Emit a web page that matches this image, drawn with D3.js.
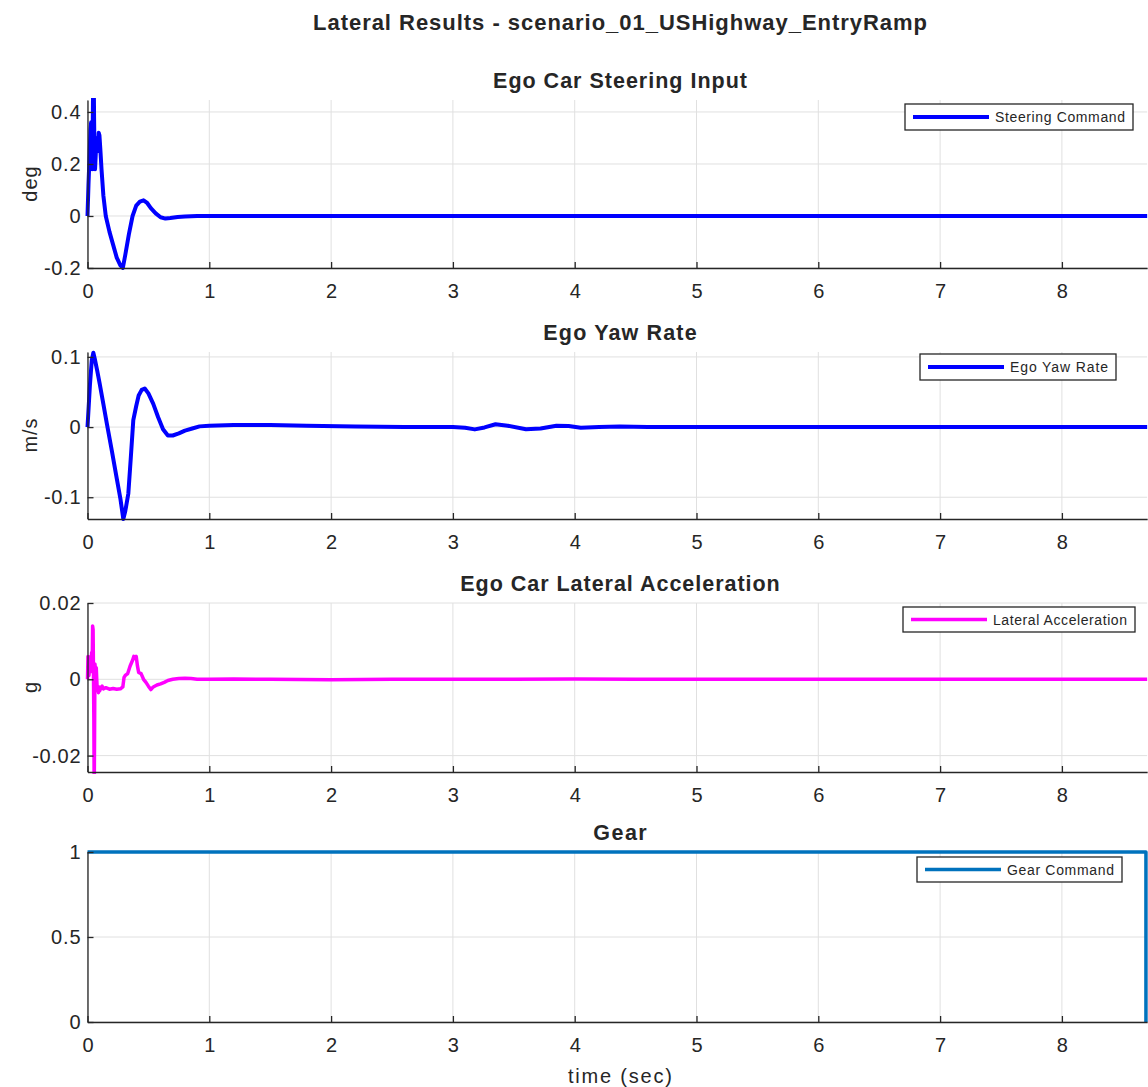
<!DOCTYPE html>
<html><head><meta charset="utf-8">
<script src="https://cdn.jsdelivr.net/npm/d3@7"></script>
<style>
body{margin:0;background:#fff}
svg{display:block}
text{font-family:"Liberation Sans",Arial,Helvetica,sans-serif;fill:#262626}
</style>
</head><body><svg id="c" width="1148" height="1087"></svg>
<script>
// ---------- data ----------
const figureTitle = "Lateral Results - scenario_01_USHighway_EntryRamp";
const xLabel = "time (sec)";
const timeTicks = [0,1,2,3,4,5,6,7,8];
const timeDomain = [0, 8.7];

const steeringT = [0,0.008,0.016,0.024,0.03,0.034,0.038,0.042,0.046,0.05,0.054,0.058,0.062,0.068,0.074,0.08,0.086,0.092,0.098,0.105,0.115,0.13,0.15,0.18,0.21,0.24,0.27,0.29,0.31,0.34,0.37,0.4,0.43,0.46,0.49,0.52,0.56,0.6,0.64,0.68,0.74,0.8,0.9,1.0,1.5,2,3,4,5,6,7,8,8.7];
const steeringV = [0,0.12,0.22,0.33,0.36,0.25,0.18,0.3,0.5,0.6,0.38,0.22,0.18,0.24,0.27,0.3,0.25,0.32,0.31,0.26,0.18,0.08,0.0,-0.06,-0.11,-0.16,-0.19,-0.2,-0.15,-0.07,0.0,0.04,0.055,0.06,0.05,0.03,0.01,-0.005,-0.01,-0.008,-0.004,-0.002,0,0,0,0,0,0,0,0,0,0,0];
const steeringTicks = [-0.2,0,0.2,0.4];
const steeringDomain = [-0.2, 0.446];

const yawT = [0,0.02,0.035,0.048,0.06,0.08,0.1,0.13,0.16,0.2,0.24,0.27,0.294,0.31,0.335,0.355,0.376,0.4,0.42,0.445,0.47,0.5,0.54,0.58,0.62,0.66,0.7,0.75,0.8,0.86,0.92,1.0,1.2,1.5,1.8,2.2,2.6,3.0,3.1,3.18,3.26,3.35,3.45,3.6,3.72,3.85,3.95,4.05,4.2,4.37,4.6,5,6,7,8,8.7];
const yawV = [0,0.06,0.095,0.106,0.097,0.08,0.062,0.033,0.004,-0.034,-0.073,-0.102,-0.131,-0.12,-0.095,-0.045,0.01,0.03,0.045,0.053,0.055,0.048,0.033,0.014,-0.003,-0.012,-0.012,-0.009,-0.005,-0.002,0.001,0.002,0.003,0.003,0.002,0.001,0.0,0.0,-0.001,-0.0033,-0.0005,0.004,0.002,-0.003,-0.002,0.002,0.0015,-0.001,0,0.001,0,0,0,0,0,0];
const yawTicks = [-0.1,0,0.1];
const yawDomain = [-0.131, 0.107];

const latT = [0,0.004,0.008,0.012,0.016,0.02,0.025,0.03,0.034,0.038,0.042,0.046,0.049,0.052,0.055,0.058,0.061,0.064,0.068,0.072,0.076,0.08,0.085,0.09,0.095,0.1,0.11,0.12,0.13,0.15,0.18,0.21,0.24,0.27,0.29,0.3,0.31,0.33,0.35,0.37,0.38,0.39,0.4,0.41,0.42,0.44,0.46,0.48,0.5,0.52,0.54,0.57,0.6,0.63,0.66,0.7,0.75,0.8,0.85,0.9,1.0,1.2,1.5,2,2.5,3,3.5,4,4.5,5,5.5,6,6.5,7,7.5,8,8.7];
const latV = [0,0.006,0.004,0.001,0.003,0.002,0.006,0.004,0.007,0.002,0.014,0.013,0.002,-0.01,-0.03,-0.015,0.004,0.003,-0.002,0.003,0.0,-0.003,-0.002,-0.0035,-0.002,-0.003,-0.0022,-0.0018,-0.0025,-0.0022,-0.0026,-0.0024,-0.0026,-0.0025,-0.002,0.0005,0.001,0.0015,0.0035,0.005,0.006,0.0055,0.006,0.0035,0.0018,0.0015,0.0,-0.0008,-0.0018,-0.0027,-0.002,-0.0015,-0.0012,-0.0008,-0.0003,0.0,0.0002,0.0003,0.0002,0.0,0.0,0.0001,0,-0.0001,0,0,0,0.0001,0,0,0,0,0,0,0,0,0];
const latTicks = [-0.02,0,0.02];
const latDomain = [-0.0243, 0.02];

const gearT = [0, 8.69, 8.69];
const gearV = [1, 1, 0];
const gearTicks = [0,0.5,1];
const gearDomain = [0, 1];

const panelTitles = ["Ego Car Steering Input","Ego Yaw Rate","Ego Car Lateral Acceleration","Gear"];
const yLabels = ["deg","m/s","g",""];
const legendLabels = ["Steering Command","Ego Yaw Rate","Lateral Acceleration","Gear Command"];

// ---------- layout ----------
const svg = d3.select("#c");
const left = 87.5, right = 87.5 + 8.7*121.8;
const x = d3.scaleLinear().domain(timeDomain).range([left, right]);
const cx = 620;

function fitText(sel, factor){
  const w = sel.node().getComputedTextLength();
  sel.attr("textLength", w*factor).attr("lengthAdjust","spacing");
}

const mt = svg.append("text").attr("x", cx).attr("y", 30).attr("text-anchor","middle")
  .attr("font-size", 22).attr("font-weight","bold").text(figureTitle);
fitText(mt, 614/(mt.node().getComputedTextLength()));

const panels = [
  {t:steeringT, v:steeringV, ticks:steeringTicks, dom:steeringDomain, top:100, bot:268, color:"#0000ff", lw:4,
   leg:{x:905,y:104,w:228,h:26}},
  {t:yawT, v:yawV, ticks:yawTicks, dom:yawDomain, top:352, bot:519, color:"#0000ff", lw:4,
   leg:{x:920,y:354,w:196,h:26}},
  {t:latT, v:latV, ticks:latTicks, dom:latDomain, top:603, bot:772, color:"#ff00ff", lw:3.5,
   leg:{x:903,y:607,w:232,h:25}},
  {t:gearT, v:gearV, ticks:gearTicks, dom:gearDomain, top:852, bot:1022, color:"#0072bd", lw:3.5,
   leg:{x:917,y:857,w:205,h:25}}
];

panels.forEach((p,i)=>{
  const y = d3.scaleLinear().domain(p.dom).range([p.bot, p.top]);
  const g = svg.append("g");
  g.selectAll(".gx").data(timeTicks).join("line")
    .attr("x1",d=>x(d)).attr("x2",d=>x(d)).attr("y1",p.top).attr("y2",p.bot)
    .attr("stroke","#e0e0e0").attr("stroke-width",1);
  g.selectAll(".gy").data(p.ticks).join("line")
    .attr("x1",left).attr("x2",right).attr("y1",d=>y(d)).attr("y2",d=>y(d))
    .attr("stroke","#e0e0e0").attr("stroke-width",1);
  const cid = "clip"+i;
  svg.append("clipPath").attr("id",cid).append("rect")
    .attr("x",left-3).attr("y",p.top-2).attr("width",right-left+6).attr("height",p.bot-p.top+4);
  const data = p.t.map((t,k)=>[t,p.v[k]]);
  g.append("path").datum(data).attr("clip-path",`url(#${cid})`)
    .attr("fill","none").attr("stroke",p.color).attr("stroke-width",p.lw)
    .attr("stroke-linejoin","round")
    .attr("d", d3.line().x(d=>x(d[0])).y(d=>y(d[1])));
  const ax = d3.axisBottom(x).tickValues(timeTicks).tickSizeInner(-6).tickSizeOuter(0).tickPadding(13).tickFormat(d3.format(""));
  const ay = d3.axisLeft(y).tickValues(p.ticks).tickSizeInner(-6).tickSizeOuter(0).tickPadding(7).tickFormat(d=>String(+d.toFixed(4)));
  const gx = g.append("g").attr("transform",`translate(0,${p.bot})`).call(ax);
  const gy = g.append("g").attr("transform",`translate(${left},0)`).call(ay);
  [gx,gy].forEach(a=>{
    a.select(".domain").attr("stroke","#262626").attr("stroke-width",1.3);
    a.selectAll(".tick line").attr("stroke","#262626").attr("stroke-width",1.3);
    a.selectAll(".tick text").attr("fill","#262626").attr("font-size",20)
      .attr("font-family",'"Liberation Sans",Arial,sans-serif');
  });
  gx.selectAll(".tick text").attr("dy","0.85em");
  gy.selectAll(".tick text").each(function(){ fitText(d3.select(this), 1.06); });
  const tt = svg.append("text").attr("x",cx).attr("y",p.top-12).attr("text-anchor","middle")
    .attr("font-size",21.5).attr("font-weight","bold").text(panelTitles[i]);
  fitText(tt, 1.09);
  if (yLabels[i]) {
    const my = (p.top+p.bot)/2;
    const yl = svg.append("text").attr("transform",`translate(37,${my}) rotate(-90)`)
      .attr("text-anchor","middle").attr("font-size",20).text(yLabels[i]);
    fitText(yl, 1.06);
  }
  const L = p.leg;
  const lg = svg.append("g");
  lg.append("rect").attr("x",L.x).attr("y",L.y).attr("width",L.w).attr("height",L.h)
    .attr("fill","#fff").attr("stroke","#262626").attr("stroke-width",1.3);
  lg.append("line").attr("x1",L.x+8).attr("x2",L.x+84).attr("y1",L.y+L.h/2).attr("y2",L.y+L.h/2)
    .attr("stroke",p.color).attr("stroke-width",p.lw);
  lg.append("text").attr("x",L.x+90).attr("y",L.y+L.h/2+5).attr("font-size",14)
    .attr("textLength",L.w-98).attr("lengthAdjust","spacing").text(legendLabels[i]);
});

const xl = svg.append("text").attr("x",cx).attr("y",1083).attr("text-anchor","middle")
  .attr("font-size",20).text(xLabel);
fitText(xl, 104/xl.node().getComputedTextLength());
</script>
</body></html>
